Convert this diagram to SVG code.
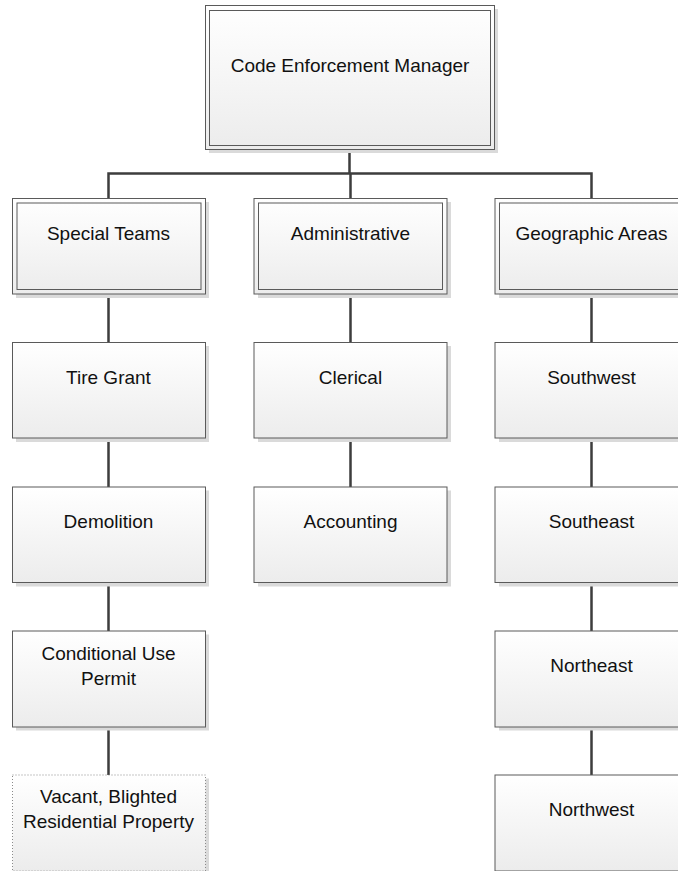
<svg xmlns="http://www.w3.org/2000/svg" width="678" height="871" viewBox="0 0 678 871">
<defs>
<linearGradient id="g" x1="0" y1="0" x2="0" y2="1">
<stop offset="0" stop-color="#ffffff"/>
<stop offset="1" stop-color="#ececec"/>
</linearGradient>
</defs>
<style>
.sh{fill:#dadada}
.box{fill:url(#g);stroke:#5a5a5a;stroke-width:1}
.inner{fill:none;stroke:#5a5a5a;stroke-width:1}
.dot{fill:url(#g);stroke:#8a8a8a;stroke-width:1;stroke-dasharray:1 2}
text{font-family:"Liberation Sans",Arial,sans-serif;font-size:19px;fill:#111;text-anchor:middle}
.con{fill:none;stroke:#3d3d3d;stroke-width:2.5}
</style>
<rect width="678" height="871" fill="#ffffff"/>
<g id="connectors">
<path class="con" d="M349.5 149.5V173.5M108.5 198V173.5H591.5V198M350.5 173.5V198"/>
<path class="con" d="M108.5 294V342.5M108.5 438V487M108.5 582V631M108.5 727V775"/>
<path class="con" d="M350.5 294V342.5M350.5 438V487"/>
<path class="con" d="M591.5 294V342.5M591.5 438V487M591.5 582V631M591.5 727V775"/>
</g>
<g id="manager">
<rect class="sh" x="209" y="9" width="289" height="144"/>
<rect class="box" x="205.5" y="5.5" width="289" height="144"/>
<rect class="inner" x="209.5" y="10.5" width="281" height="135"/>
<text x="350" y="72">Code Enforcement Manager</text>
</g>
<g id="special-teams">
<rect class="sh" x="16" y="202" width="193" height="96"/>
<rect class="box" x="12.5" y="198.5" width="193" height="95.5"/>
<rect class="inner" x="17" y="203" width="184" height="86.5"/>
<text x="108.5" y="240">Special Teams</text>
</g>
<g id="administrative">
<rect class="sh" x="258" y="202" width="193" height="96"/>
<rect class="box" x="254" y="198.5" width="193" height="95.5"/>
<rect class="inner" x="258.5" y="203" width="184" height="86.5"/>
<text x="350.5" y="240">Administrative</text>
</g>
<g id="geographic-areas">
<rect class="sh" x="499" y="202" width="193" height="96"/>
<rect class="box" x="495" y="198.5" width="193" height="95.5"/>
<rect class="inner" x="499.5" y="203" width="184" height="86.5"/>
<text x="591.5" y="240">Geographic Areas</text>
</g>
<g id="tire-grant">
<rect class="sh" x="16" y="346" width="193" height="96"/>
<rect class="box" x="12.5" y="342.5" width="193" height="95.5"/>
<text x="108.5" y="384">Tire Grant</text>
</g>
<g id="demolition">
<rect class="sh" x="16" y="490.5" width="193" height="96"/>
<rect class="box" x="12.5" y="487" width="193" height="95.5"/>
<text x="108.5" y="528">Demolition</text>
</g>
<g id="conditional-use-permit">
<rect class="sh" x="16" y="634.5" width="193" height="96"/>
<rect class="box" x="12.5" y="631" width="193" height="96"/>
<text x="108.5" y="660">Conditional Use</text>
<text x="108.5" y="685">Permit</text>
</g>
<g id="vacant-blighted">
<rect class="sh" x="16" y="778.5" width="193" height="96"/>
<rect class="dot" x="12.5" y="775" width="193" height="96"/>
<text x="108.5" y="803">Vacant, Blighted</text>
<text x="108.5" y="828">Residential Property</text>
</g>
<g id="clerical">
<rect class="sh" x="258" y="346" width="193" height="96"/>
<rect class="box" x="254" y="342.5" width="193" height="95.5"/>
<text x="350.5" y="384">Clerical</text>
</g>
<g id="accounting">
<rect class="sh" x="258" y="490.5" width="193" height="96"/>
<rect class="box" x="254" y="487" width="193" height="95.5"/>
<text x="350.5" y="528">Accounting</text>
</g>
<g id="southwest">
<rect class="sh" x="499" y="346" width="193" height="96"/>
<rect class="box" x="495" y="342.5" width="193" height="95.5"/>
<text x="591.5" y="384">Southwest</text>
</g>
<g id="southeast">
<rect class="sh" x="499" y="490.5" width="193" height="96"/>
<rect class="box" x="495" y="487" width="193" height="95.5"/>
<text x="591.5" y="528">Southeast</text>
</g>
<g id="northeast">
<rect class="sh" x="499" y="634.5" width="193" height="96"/>
<rect class="box" x="495" y="631" width="193" height="96"/>
<text x="591.5" y="672">Northeast</text>
</g>
<g id="northwest">
<rect class="sh" x="499" y="778.5" width="193" height="96"/>
<rect class="box" x="495" y="775" width="193" height="96"/>
<text x="591.5" y="816">Northwest</text>
</g>
</svg>
